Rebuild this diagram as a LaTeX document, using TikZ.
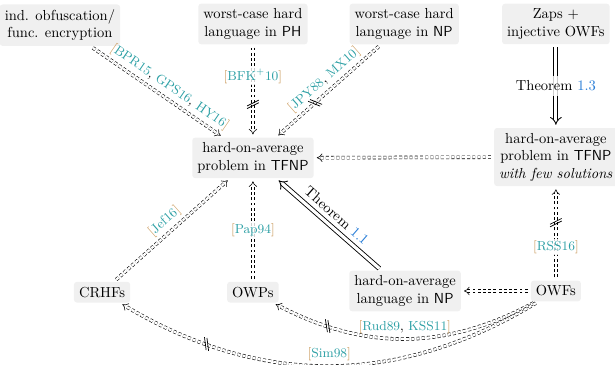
\documentclass[tikz,border=0pt]{standalone}
\usepackage{amsmath, amssymb}
\usepackage[dvipsnames]{xcolor}
\usepackage{tikz}
\usetikzlibrary{arrows.meta}
\usetikzlibrary{decorations.markings}
\definecolor{citeteal}{RGB}{45,160,165}
\definecolor{citebracket}{RGB}{200,150,85}
\definecolor{refblue}{RGB}{40,125,215}
\definecolor{boxgray}{RGB}{240,240,240}
\newcommand{\bibref}[1]{\textcolor{citebracket}{[}#1\textcolor{citebracket}{]}}
\newcommand{\bibkey}[1]{\textcolor{citeteal}{#1}}
\tikzset{
    statement/.style={fill=boxgray, rounded corners=2pt, align=center, inner sep=3.5pt},
    reduction/.style={double, double distance=1.6pt, dash pattern=on 2pt off 1.6pt, -{Implies}, shorten <=2pt, shorten >=2pt},
    proven/.style={line width=0.6pt, double, double distance=2.2pt, -{Implies}, shorten <=2pt, shorten >=2pt},
    separated/.style={postaction={decorate, decoration={markings, mark=at position #1 with {\draw[solid, -, shorten <=0pt, shorten >=0pt, line width=0.5pt] (2pt,-4pt) -- (-2pt,4pt) (3.8pt,-4pt) -- (-0.2pt,4pt);}}}},
    cit/.style={font=\small, inner sep=1pt},
    onarrow/.style={fill=white, fill opacity=0.8, text opacity=1}
}

\begin{document}
\begin{tikzpicture}

    \useasboundingbox (0,0) rectangle (14.88,-8.81);

    \node[statement] (obf) at (1.45,-0.61) {ind. obfuscation/\\func. encryption};
    \node[statement] (ph) at (6.12,-0.58) {worst-case hard\\language in \textsf{PH}};
    \node[statement] (npw) at (9.78,-0.58) {worst-case hard\\language in \textsf{NP}};
    \node[statement] (zaps) at (13.45,-0.58) {Zaps +\\injective OWFs};
    \node[statement] (tfnp) at (6.12,-3.82) {hard-on-average\\problem in \textsf{TFNP}};
    \node[statement] (few) at (13.45,-3.80) {hard-on-average\\problem in \textsf{TFNP}\\\textit{with few solutions}};
    \node[statement] (crhf) at (2.47,-7.07) {CRHFs};
    \node[statement] (owp) at (6.12,-7.07) {OWPs};
    \node[statement] (npavg) at (9.80,-7.04) {hard-on-average\\language in \textsf{NP}};
    \node[statement] (owf) at (13.45,-7.04) {OWFs};

    \draw[reduction] (obf) -- (tfnp) node[pos=0.55, above=2pt, sloped, cit] {\bibref{\bibkey{BPR15}, \bibkey{GPS16}, \bibkey{HY16}}};
    \draw[reduction, separated=0.63] (ph) -- (tfnp) node[pos=0.34, onarrow, cit] {\bibref{\bibkey{BFK$^+$10}}};
    \draw[reduction, separated=0.62] (npw) -- (tfnp) node[pos=0.47, above=2pt, sloped, cit] {\bibref{\bibkey{JPY88}, \bibkey{MX10}}};
    \draw[proven] (zaps) -- (few) node[midway, onarrow] {Theorem \textcolor{refblue}{1.3}};
    \draw[reduction] (few) -- (tfnp);
    \draw[reduction] (crhf) -- (tfnp) node[midway, above=2pt, sloped, cit] {\bibref{\bibkey{Jef16}}};
    \draw[reduction] (owp) -- (tfnp) node[midway, onarrow, cit] {\bibref{\bibkey{Pap94}}};
    \draw[proven] (npavg) -- (tfnp) node[midway, above=1pt, sloped] {Theorem \textcolor{refblue}{1.1}};
    \draw[reduction, separated=0.6] (owf) -- (few) node[pos=0.35, onarrow, cit] {\bibref{\bibkey{RSS16}}};
    \draw[reduction] (owf) -- (npavg);
    \draw[reduction, separated=0.78] (owf) to[bend left=28] node[midway, above=2pt, cit] {\bibref{\bibkey{Rud89}, \bibkey{KSS11}}} (owp);
    \draw[reduction, separated=0.78] (owf) to[bend left=31] node[midway, above=2pt, cit] {\bibref{\bibkey{Sim98}}} (crhf);

\end{tikzpicture}
\end{document}
